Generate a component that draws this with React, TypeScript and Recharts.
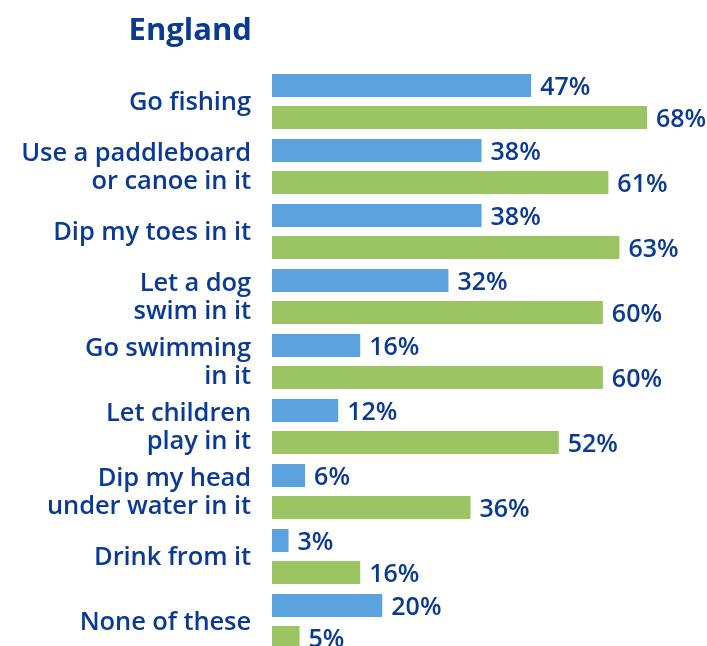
import React from "react";
import { BarChart, Bar, XAxis, YAxis, LabelList } from "recharts";

const categories = [
  "Go fishing",
  "Use a paddleboard\nor canoe in it",
  "Dip my toes in it",
  "Let a dog\nswim in it",
  "Go swimming\nin it",
  "Let children\nplay in it",
  "Dip my head\nunder water in it",
  "Drink from it",
  "None of these",
];
const blueValues = [47, 38, 38, 32, 16, 12, 6, 3, 20];
const greenValues = [68, 61, 63, 60, 60, 52, 36, 16, 5];

const data = categories.map((c, i) => ({ name: c, blue: blueValues[i], green: greenValues[i] }));

const TEXT = "#0a3a94";
const FONT = "'Open Sans', sans-serif";

const Tick = (props: any) => {
  const { x, y, payload } = props;
  const lines = String(payload.value).split("\n");
  const lh = 28;
  const start = -((lines.length - 1) * lh) / 2;
  return (
    <g transform={`translate(${x},${y})`}>
      {lines.map((l, i) => (
        <text
          key={i}
          x={0}
          y={start + i * lh - 1}
          dy="0.36em"
          textAnchor="end"
          fill={TEXT}
          fontFamily={FONT}
          fontWeight={600}
          fontSize={25.5}
          letterSpacing={-0.1}
        >
          {l}
        </text>
      ))}
    </g>
  );
};

const ValueLabel = (props: any) => {
  const { x, y, width, height, value } = props;
  return (
    <text
      x={x + width + 9}
      y={y + height / 2}
      dy="0.36em"
      textAnchor="start"
      fill={TEXT}
      fontFamily={FONT}
      fontWeight={600}
      fontSize={25}
    >
      {value}%
    </text>
  );
};

export default function App() {
  return (
    <div
      style={{
        position: "fixed",
        top: 8,
        left: 8,
        width: 699,
        height: 638,
        overflow: "hidden",
      }}
    >
      <div
        style={{
          position: "absolute",
          right: 699 - 244,
          top: 0,
          fontFamily: FONT,
          fontWeight: 700,
          fontSize: 31,
          color: TEXT,
          lineHeight: "40px",
          whiteSpace: "nowrap",
        }}
      >
        England
      </div>
      <BarChart
        width={699}
        height={650}
        data={data}
        layout="vertical"
        margin={{ top: 61, right: 49, bottom: 4, left: 0 }}
        barSize={23}
        barGap={9}
      >
        <XAxis type="number" domain={[0, 70]} hide />
        <YAxis
          type="category"
          dataKey="name"
          width={264}
          axisLine={false}
          tickLine={false}
          tick={<Tick />}
          tickMargin={15}
          interval={0}
        />
        <Bar dataKey="blue" fill="#5aa3de" isAnimationActive={false}>
          <LabelList dataKey="blue" content={<ValueLabel />} />
        </Bar>
        <Bar dataKey="green" fill="#9bc562" isAnimationActive={false}>
          <LabelList dataKey="green" content={<ValueLabel />} />
        </Bar>
      </BarChart>
    </div>
  );
}
